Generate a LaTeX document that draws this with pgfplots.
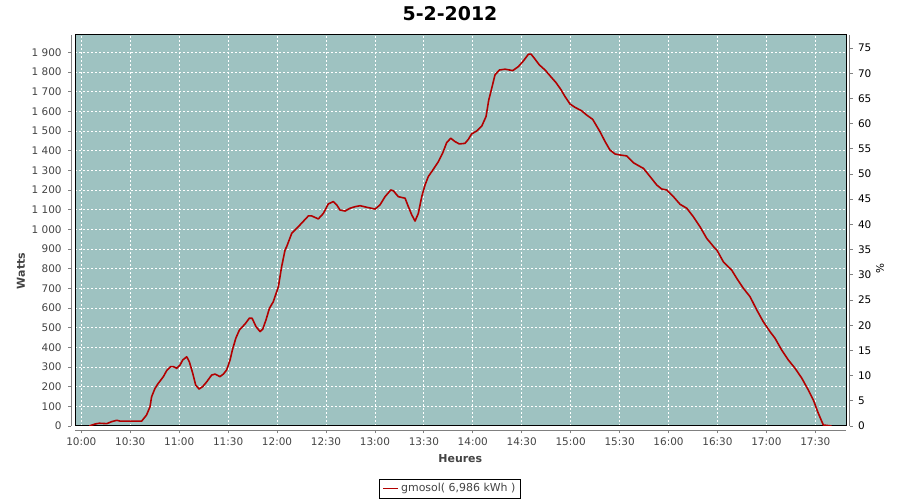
\documentclass[border=0pt]{standalone}
\usepackage{pgfplots}
\pgfplotsset{compat=1.18}
\usepackage{fontspec}
\setmainfont{DejaVu Sans}
\definecolor{bgc}{RGB}{158,194,193}
\definecolor{linec}{RGB}{178,0,0}
\definecolor{lblc}{RGB}{68,68,68}
\begin{document}
\begin{tikzpicture}[x=1bp,y=1bp]
\useasboundingbox (0,0) rectangle (900,500);
\node[font=\bfseries\fontsize{19}{22}\selectfont] at (450,486.5) {5-2-2012};
\begin{axis}[
  name=main,
  at={(75.3bp,74bp)}, anchor=south west,
  width=771bp, height=391bp, scale only axis,
  xmin=-3.7, xmax=469, ymin=0, ymax=1988,
  axis background/.style={fill=bgc},
  axis line style={black, line width=1bp},
  xtick={0,30,...,450},
  xticklabels={10:00,10:30,11:00,11:30,12:00,12:30,13:00,13:30,14:00,14:30,15:00,15:30,16:00,16:30,17:00,17:30},
  ytick={0,100,...,1900},
  xtick pos=bottom, ytick pos=left,
  grid=major,
  major grid style={white, dash pattern=on 2bp off 2bp, line width=0.75bp},
  tick align=outside, major tick length=3bp,
  xtick style={draw=gray, line width=0.75bp, yshift=-4.3bp},
  ytick style={draw=gray, line width=0.75bp, xshift=-4bp},
  tick label style={font=\fontsize{10.5}{12}\selectfont, text=lblc},
  xticklabel style={anchor=north, inner sep=0pt, yshift=-8.5bp},
  yticklabel style={anchor=east, inner sep=0pt, xshift=-10.5bp},
  /pgf/number format/assume math mode=true,
  /pgf/number format/1000 sep={\ },
  legend style={at={(0.486,-0.1598)}, anchor=center, draw=black, line width=0.75bp,
    font=\fontsize{11}{13}\selectfont, text=lblc, inner xsep=3bp, inner ysep=2.5bp},
  legend image code/.code={\draw[#1] (0bp,0bp) -- (15bp,0bp);},
]
\addplot[linec, line width=1.6bp, line join=round] coordinates {
(4.9,0) (8.4,10) (11,14) (15.6,12) (18.6,22) (21.7,29) (23.7,25) (37,25)
(40,56) (42.1,98) (43.1,149) (45.2,192) (47.2,217) (50.3,251) (52.3,281)
(54.8,302) (56.4,302) (58.5,293) (60.5,310) (62.2,336) (64.6,352) (66.2,327)
(68.3,268) (70.1,208) (72.2,188) (74.4,200) (76.9,225) (79.9,259) (82,264)
(85,251) (87.1,264) (89.1,285) (91.2,336) (92.6,386) (94.7,446) (96.9,488)
(100.4,519) (103,548) (104.7,548) (107.1,505) (109.6,480) (111.2,492)
(113.2,539) (115.3,598) (117.7,632) (120.8,708) (122.8,810) (124.9,895)
(125.9,912) (129,980) (132,1005) (134,1022) (139.2,1068) (141.2,1068)
(145.3,1053) (148.4,1081) (151.4,1129) (154.5,1141) (156.6,1124) (158.6,1098)
(161.7,1093) (164.7,1107) (167.8,1115) (170.9,1120) (175,1112) (180.1,1103)
(183.1,1124) (186.2,1166) (189.7,1200) (191.3,1196) (194.3,1166) (198.5,1158)
(200.5,1115) (202.6,1073) (204.6,1042) (206.6,1081) (208.7,1166) (210.7,1225)
(212.7,1268) (215.8,1305) (218.9,1344) (221.5,1387) (224,1441) (226.5,1463)
(229.1,1446) (231.7,1434) (235.2,1437) (237.3,1458) (239.3,1485) (242.4,1500)
(245.5,1525) (248.1,1573) (249.8,1658) (251.6,1717) (253.6,1785) (256.3,1810)
(259.8,1814) (264.5,1807) (267.9,1827) (271,1856) (274.1,1890) (275.7,1891)
(277.7,1870) (280.8,1836) (284.3,1810) (287.4,1780) (291,1746) (293.9,1712)
(296.6,1674) (299.6,1637) (302.7,1620) (306.8,1602) (309.8,1581) (313.5,1559)
(318,1496) (321.1,1446) (324.1,1403) (327.2,1383) (330.3,1378) (334.4,1373)
(338.4,1339) (341.5,1324) (344.6,1310) (348.7,1268) (352.8,1225) (355.8,1205)
(358.9,1200) (363,1166) (367.1,1127) (371.2,1107) (375.2,1064) (379.3,1013)
(383.4,954) (388.5,903) (389.6,895) (393.6,835) (398.7,793) (401.8,751)
(405.9,700) (410,657) (414.1,590) (418.1,530) (422.2,480) (425.3,446)
(429.4,386) (433.4,336) (437.6,293) (441.7,243) (445.7,183) (448.8,132)
(451.8,65) (454.9,5) (460,0)
};
\addlegendentry{gmosol( 6,986 kWh )}
\end{axis}
\begin{axis}[
  at={(75.3bp,74bp)}, anchor=south west,
  width=771bp, height=391bp, scale only axis,
  xmin=-3.7, xmax=469, ymin=0, ymax=77.6,
  hide x axis,
  axis y line*=right,
  y axis line style={draw=none},
  ytick={0,5,...,75},
  tick align=outside, major tick length=3bp,
  ytick style={draw=gray, line width=0.75bp, xshift=3.4bp},
  yticklabel style={font=\fontsize{10.5}{12}\selectfont, text=black, anchor=west, inner sep=0pt, xshift=8.5bp},
  /pgf/number format/assume math mode=true,
]
\addplot[draw=none] coordinates {(0,0)};
\end{axis}
\draw[gray, line width=0.75bp] ([yshift=-4.3bp]main.south west) -- ([yshift=-4.3bp]main.south east);
\draw[gray, line width=0.75bp] ([xshift=-4bp]main.south west) -- ([xshift=-4bp]main.north west);
\draw[gray, line width=0.75bp] ([xshift=3.4bp]main.south east) -- ([xshift=3.4bp]main.north east);
\node[font=\bfseries\fontsize{11}{13}\selectfont, text=lblc] at (460.3,41) {Heures};
\node[font=\bfseries\fontsize{11}{13}\selectfont, text=lblc, rotate=90] at (21,229) {Watts};
\node[font=\fontsize{10.5}{12}\selectfont, rotate=90] at (880,231) {\%};
\end{tikzpicture}
\end{document}
